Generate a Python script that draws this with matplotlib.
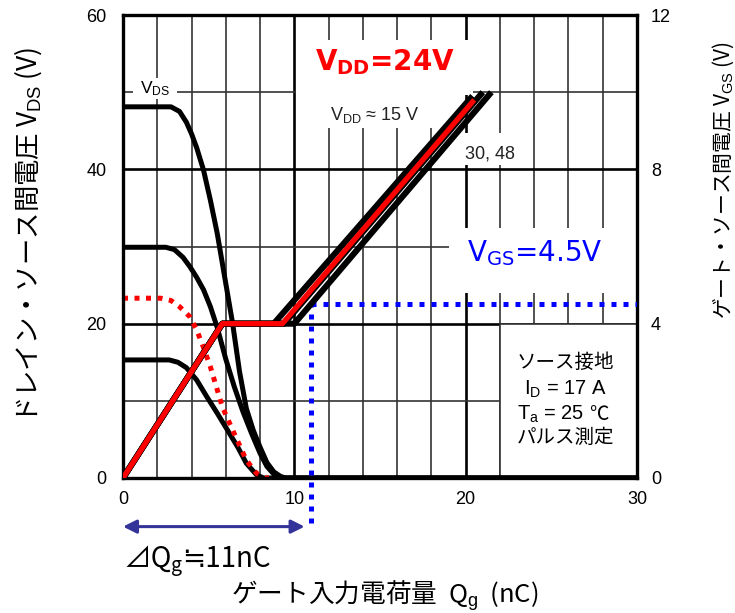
import matplotlib
matplotlib.use('Agg')
import matplotlib.pyplot as plt
from matplotlib.patches import Rectangle
from matplotlib.transforms import ScaledTranslation

plt.rcParams['font.family'] = ['Liberation Sans', 'Noto Sans CJK JP']
plt.rcParams['mathtext.fontset'] = 'custom'
plt.rcParams['mathtext.rm'] = 'Liberation Sans'
plt.rcParams['mathtext.it'] = 'Liberation Sans:italic'
plt.rcParams['mathtext.bf'] = 'DejaVu Sans:bold'
plt.rcParams['mathtext.sf'] = 'DejaVu Sans'

JP = ['Noto Sans CJK JP', 'DejaVu Sans']

# drain-source voltage vs gate charge (VDS curves, left axis)
qg_vds48 = [0, 2.8, 3.3, 3.7, 4.0, 4.3, 4.7, 5.1, 5.5, 6.0, 6.4, 6.8, 7.2, 7.6, 8.0, 8.4, 8.8, 9.2, 9.5, 30]
vds48 = [48.1, 48.1, 47.5, 46.1, 44.6, 42.8, 39.9, 36.0, 31.7, 25.2, 20.0, 13.8, 9.0, 6.2, 4.0, 2.0, 0.8, 0.2, 0, 0]
qg_vds30 = [0, 2.5, 3.0, 3.5, 3.9, 4.3, 4.7, 5.1, 5.5, 6.0, 6.5, 7.0, 7.5, 8.0, 8.4, 8.8, 9.2, 30]
vds30 = [29.9, 29.9, 29.6, 28.6, 27.4, 26.0, 24.4, 22.2, 19.5, 15.4, 11.8, 8.6, 5.8, 3.2, 1.5, 0.5, 0, 0]
qg_vds15 = [0, 2.7, 3.2, 3.7, 4.3, 4.9, 5.5, 6.1, 6.7, 7.2, 7.8, 8.2, 30]
vds15 = [15.3, 15.3, 15.0, 14.3, 12.7, 10.5, 8.4, 6.2, 4.0, 1.9, 0.4, 0, 0]
qg_vds24 = [0, 2.2, 2.8, 3.3, 3.9, 4.3, 4.7, 5.1, 5.8, 6.4, 7.2, 7.8, 8.3, 8.9]
vds24 = [23.3, 23.3, 23.0, 22.2, 20.9, 19.2, 16.9, 14.4, 9.2, 6.2, 2.3, 0.6, 0.0, 0.0]

# gate-source voltage vs gate charge (right axis)
qg_vgs15 = [0, 5.8, 8.8, 20.4]
vgs15 = [0, 4.0, 4.0, 9.9]
qg_vgs30 = [0, 5.8, 9.4, 21.0]
vgs30 = [0, 4.0, 4.0, 10.0]
qg_vgs48 = [0, 5.8, 10.0, 21.5]
vgs48 = [0, 4.0, 4.0, 10.0]
qg_vgs24 = [0, 5.8, 9.3, 20.5]
vgs24 = [0, 4.0, 4.0, 9.8]

vgs_drive = 4.5
qg_drive = 11

x_ticks = [0, 10, 20, 30]
vds_ticks = [0, 20, 40, 60]
vgs_ticks = [0, 4, 8, 12]

fig = plt.figure(figsize=(7.35, 6.13), dpi=100)
ax = fig.add_axes([123 / 735, 1 - 478 / 613, 514 / 735, 463 / 613])
ax.set_xlim(0, 30)
ax.set_ylim(0, 60)
renderer = fig.canvas.get_renderer()


def run_text(x, y, pieces):
    """Write pieces left to right from (x, y); each piece is (text, size, rise in points)."""
    for s, size, rise in pieces:
        shift = ScaledTranslation(0, rise / 72, fig.dpi_scale_trans)
        t = ax.text(x, y, s, family=JP, fontsize=size, ha='left', va='baseline',
                    clip_on=False, zorder=3, transform=ax.transData + shift)
        x1 = t.get_window_extent(renderer).x1
        x = ax.transData.inverted().transform((x1, 0))[0]


# grid: thin every 2 nC / 10 V, heavier every 10 nC / 20 V
for q in range(2, 30, 2):
    ax.axvline(q, color='black' if q % 10 == 0 else '#333333',
               lw=1.9 if q % 10 == 0 else 1.2, zorder=1)
for v in range(10, 60, 10):
    ax.axhline(v, color='black' if v % 20 == 0 else '#333333',
               lw=1.9 if v % 20 == 0 else 1.2, zorder=1)

# white label backgrounds
for (x0, y0, w, h) in [(0.6, 49.1, 2.55, 2.7), (10.1, 49.6, 10.3, 7.2),
                       (10.1, 45.3, 8.2, 4.5), (19.6, 40.5, 3.8, 4.2),
                       (19.0, 24.0, 11.0, 8.4)]:
    ax.add_patch(Rectangle((x0, y0), w, h, facecolor='white', edgecolor='none', zorder=2))
ax.add_patch(Rectangle((22, 0), 8, 20, facecolor='white', edgecolor='#333333', lw=1.2, zorder=2))

lw_vds = 3.6
ax.plot(qg_vds48, vds48, color='black', lw=lw_vds, zorder=5, solid_capstyle='butt')
ax.plot(qg_vds30, vds30, color='black', lw=lw_vds, zorder=5, solid_capstyle='butt')
ax.plot(qg_vds15, vds15, color='black', lw=lw_vds, zorder=5, solid_capstyle='butt')
ax.plot(qg_vds24, vds24, color='red', lw=3.6, ls=(0, (1, 1.3)), zorder=6)

ax.text(1.87, 50.4, r'V$_\mathrm{DS}$', fontsize=12.5, ha='center', va='center', zorder=3)
ax.text(15.3, 52.8, r'V$_\mathbf{DD}$=24V', color='red', fontsize=20, fontweight='bold',
        family='DejaVu Sans', ha='center', va='baseline', zorder=3)
ax.text(14.7, 46.4, r'V$_\mathrm{DD}$ ≈ 15 V', fontsize=13, color='#222222',
        ha='center', va='baseline', zorder=3)
ax.text(21.4, 41.4, '30, 48', fontsize=13, color='#222222',
        ha='center', va='baseline', zorder=3)
ax.text(24.05, 28.0, r'V$_\mathsf{GS}$=4.5V', color='blue', fontsize=20,
        family='DejaVu Sans', ha='center', va='baseline', zorder=3)

# measurement conditions
ax.text(25.8, 15.0, 'ソース接地', family=JP, fontsize=14, ha='center', va='center', zorder=3)
ax.text(25.8, 10.75, r'I$_\mathrm{D}$ = 17 A', fontsize=14.5, ha='center', va='baseline', zorder=3)
t_a = ax.text(23.0, 7.5, r'T$_\mathrm{a}$ = 25', fontsize=14.5, ha='left', va='baseline', zorder=3)
x_deg = ax.transData.inverted().transform((t_a.get_window_extent(renderer).x1, 0))[0]
ax.text(x_deg + 0.3, 7.5, '℃', family=JP, fontsize=14, ha='left', va='baseline', zorder=3)
ax.text(25.8, 5.2, 'パルス測定', family=JP, fontsize=14, ha='center', va='center', zorder=3)

ax.annotate('', xy=(0, -6.3), xytext=(10.6, -6.3), annotation_clip=False,
            arrowprops=dict(arrowstyle='<|-|>,head_length=0.8,head_width=0.4',
                            color='#333399', lw=2.2, shrinkA=0, shrinkB=0))
run_text(0, -11.5, [('⊿Q', 20, 0), ('g', 14, -3), ('≒11nC', 20, 0)])

ax.set_xticks(x_ticks)
ax.set_yticks(vds_ticks)
ax.tick_params(axis='both', length=0, labelsize=13)
ax.tick_params(axis='y', pad=12)
ax.tick_params(axis='x', pad=9)
for s in ax.spines.values():
    s.set_linewidth(2.4)
    s.set_zorder(7)

ax2 = ax.twinx()
ax2.set_ylim(0, 12)
ax2.set_yticks(vgs_ticks)
ax2.tick_params(axis='y', length=0, labelsize=13, pad=10)
for s in ax2.spines.values():
    s.set_visible(False)

ax2.hlines(vgs_drive, qg_drive, 30, color='blue', lw=3.6, ls=(0, (1, 1.4)), zorder=3)
ax2.vlines(qg_drive, -1.17, vgs_drive, color='blue', lw=3.6, ls=(0, (1, 1.4)),
           zorder=3, clip_on=False)

lw_vgs = 4.4
for q, v in [(qg_vgs15, vgs15), (qg_vgs30, vgs30), (qg_vgs48, vgs48)]:
    ax2.plot(q, v, color='black', lw=lw_vgs, zorder=4, solid_capstyle='butt')
ax2.plot(qg_vgs24, vgs24, color='red', lw=3.8, zorder=5, solid_capstyle='butt')

fig.text(28 / 735, 1 - 235 / 613, 'ドレイン・ソース間電圧 V$_\\mathrm{DS}$ (V)', family=JP,
         fontsize=19, rotation=90, ha='center', va='center')
fig.text(723 / 735, 1 - 180 / 613, 'ゲート・ソース間電圧 V$_\\mathrm{GS}$ (V)', family=JP,
         fontsize=15, rotation=90, ha='center', va='center')
fig.text(385 / 735, 1 - 596 / 613, 'ゲート入力電荷量  Q$_\\mathrm{g}$  (nC)', family=JP,
         fontsize=18.5, ha='center', va='center')

fig.savefig('out.png', dpi=100)
